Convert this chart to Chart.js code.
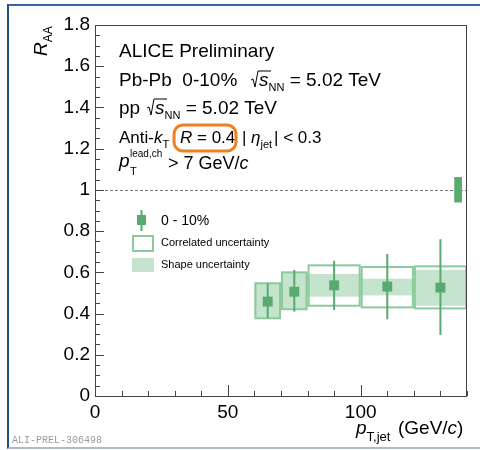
<!DOCTYPE html>
<html>
<head>
<meta charset="utf-8">
<script src="https://cdn.jsdelivr.net/npm/chart.js@4.4.1/dist/chart.umd.min.js"></script>
<style>
    body { margin: 0; background: #fff; }
    #wrap { position: relative; width: 480px; height: 450px; }
    #frame {
        position: absolute; left: 7px; top: 4px; width: 473px; height: 445px;
        box-sizing: border-box; pointer-events: none;
        border-left: 2px solid #1f4f87; border-top: 2px solid #3767a0; border-bottom: 2px solid #a6bcd2;
    }
</style>
</head>
<body>
<div id="wrap">
    <canvas id="raaChart" width="480" height="450"></canvas>
    <div id="frame"></div>
</div>
<script>
// jet pT bins (GeV/c)
const ptCenters = [65, 75, 90, 110, 130];
const binLow = [60, 70, 80, 100, 120];
const binHigh = [70, 80, 100, 120, 140];

// R_AA values, 0-10%
const raa = [0.458, 0.506, 0.537, 0.531, 0.526];
const statLow = [0.377, 0.409, 0.417, 0.372, 0.296];
const statHigh = [0.547, 0.611, 0.656, 0.689, 0.761];
const corrLow = [0.377, 0.421, 0.438, 0.430, 0.425];
const corrHigh = [0.547, 0.600, 0.634, 0.626, 0.629];
const shapeLow = [0.377, 0.421, 0.482, 0.488, 0.438];
const shapeHigh = [0.547, 0.600, 0.592, 0.569, 0.612];

// normalisation uncertainty box at R_AA = 1
const normX = [135.2, 138.1];
const normY = [0.939, 1.062];

// axes
const xTicks = [0, 50, 100];
const yTicks = [0, 0.2, 0.4, 0.6, 0.8, 1, 1.2, 1.4, 1.6, 1.8];

const GREEN = 'rgb(88, 170, 110)';
const GREEN_FILL = 'rgb(196, 228, 205)';
const GREEN_LINE = 'rgb(140, 202, 156)';
const FAMILY = '"Liberation Sans", Arial, sans-serif';

function font(size, italic) {
    return (italic ? 'italic ' : '') + size + 'px ' + FAMILY;
}

function drawRich(ctx, x, y, parts, base) {
    base = base || 19;
    parts.forEach(p => {
        if (p.at !== undefined) x = p.at;
        if (p.sqrt) {
            ctx.save();
            ctx.lineWidth = 1;
            ctx.strokeStyle = '#000';
            ctx.beginPath();
            ctx.moveTo(x, y - 6);
            ctx.lineTo(x + 2, y - 7);
            ctx.lineTo(x + 4, y + 1);
            ctx.lineTo(x + 7, y - 15);
            ctx.lineTo(x + 7 + p.sqrt, y - 15);
            ctx.stroke();
            ctx.restore();
            return;
        }
        ctx.font = font(p.size || base, p.i);
        ctx.fillText(p.t, x, y + (p.dy || 0));
        if (!p.stay) x += ctx.measureText(p.t).width;
    });
}

const rootStyle = {
    id: 'rootStyle',
    beforeDatasetsDraw(chart) {
        const ctx = chart.ctx;
        const xs = chart.scales.x, ys = chart.scales.y;
        const area = chart.chartArea;

        // dashed line at 1
        ctx.save();
        ctx.strokeStyle = '#777';
        ctx.lineWidth = 1;
        ctx.setLineDash([3, 2]);
        const y1 = Math.round(ys.getPixelForValue(1)) + 0.5;
        ctx.beginPath();
        ctx.moveTo(area.left, y1);
        ctx.lineTo(area.right, y1);
        ctx.stroke();
        ctx.setLineDash([]);

        // normalisation box
        ctx.fillStyle = GREEN;
        ctx.fillRect(xs.getPixelForValue(normX[0]), ys.getPixelForValue(normY[1]),
            xs.getPixelForValue(normX[1]) - xs.getPixelForValue(normX[0]),
            ys.getPixelForValue(normY[0]) - ys.getPixelForValue(normY[1]));

        // shape uncertainty (filled)
        ctx.fillStyle = GREEN_FILL;
        ptCenters.forEach((pt, i) => {
            const x0 = xs.getPixelForValue(binLow[i]), x1 = xs.getPixelForValue(binHigh[i]);
            const t = ys.getPixelForValue(shapeHigh[i]), b = ys.getPixelForValue(shapeLow[i]);
            ctx.fillRect(x0, t, x1 - x0, b - t);
        });

        // correlated uncertainty (open)
        ctx.strokeStyle = GREEN_LINE;
        ctx.lineWidth = 2;
        ptCenters.forEach((pt, i) => {
            const x0 = xs.getPixelForValue(binLow[i]), x1 = xs.getPixelForValue(binHigh[i]);
            const t = ys.getPixelForValue(corrHigh[i]), b = ys.getPixelForValue(corrLow[i]);
            ctx.strokeRect(x0 + 1, t, x1 - x0 - 2, b - t);
        });

        // statistical error bars
        ctx.strokeStyle = GREEN;
        ctx.lineWidth = 2;
        ptCenters.forEach((pt, i) => {
            const x = xs.getPixelForValue(pt);
            ctx.beginPath();
            ctx.moveTo(x, ys.getPixelForValue(statHigh[i]));
            ctx.lineTo(x, ys.getPixelForValue(statLow[i]));
            ctx.stroke();
        });
        ctx.restore();
    },
    afterDraw(chart) {
        const ctx = chart.ctx;
        const xs = chart.scales.x, ys = chart.scales.y;
        const area = chart.chartArea;
        ctx.save();

        // frame
        ctx.strokeStyle = '#444';
        ctx.lineWidth = 1;
        ctx.strokeRect(area.left + 0.5, area.top + 0.5, area.right - area.left - 1, area.bottom - area.top);

        // inward ticks
        ctx.beginPath();
        for (let v = 0; v <= 140; v += 10) {
            const X = Math.round(xs.getPixelForValue(v)) + 0.5;
            const len = v % 50 === 0 ? 11 : 5;
            ctx.moveTo(X, area.bottom);
            ctx.lineTo(X, area.bottom - len);
        }
        for (let k = 0; k <= 36; k++) {
            const Y = Math.round(ys.getPixelForValue(k * 0.05)) + 0.5;
            const len = k % 4 === 0 ? 9 : 5;
            ctx.moveTo(area.left, Y);
            ctx.lineTo(area.left + len, Y);
        }
        ctx.stroke();

        // annotation text
        ctx.fillStyle = '#000';
        ctx.textBaseline = 'alphabetic';
        ctx.textAlign = 'left';
        drawRich(ctx, 119, 57, [{ t: 'ALICE Preliminary' }]);
        drawRich(ctx, 119, 86, [
            { t: 'Pb-Pb  0-10%' }, { sqrt: 13, at: 251 }, { t: 's', i: true, at: 259 },
            { t: 'NN', size: 11, dy: 5 }, { t: ' = 5.02 TeV' }
        ]);
        drawRich(ctx, 119, 114, [
            { t: 'pp' }, { sqrt: 13, at: 147 }, { t: 's', i: true, at: 155 },
            { t: 'NN', size: 11, dy: 5 }, { t: ' = 5.02 TeV' }
        ]);
        drawRich(ctx, 119, 143, [
            { t: 'Anti-' }, { t: 'k', i: true }, { t: 'T', size: 11, dy: 5 },
            { t: 'R', i: true, at: 180 }, { t: ' = 0.4' },
            { t: '|', at: 242 }, { t: 'η', i: true, at: 251 }, { t: 'jet', size: 11, dy: 5 },
            { t: '| < 0.3', at: 274 }
        ], 17);
        drawRich(ctx, 119, 167, [
            { t: 'p', i: true, size: 19 }, { t: 'lead,ch', size: 10, dy: -10, at: 130, stay: true },
            { t: 'T', size: 11, dy: 8, at: 130 },
            { t: '> 7 GeV/', at: 168, dy: 2 }, { t: 'c', i: true, dy: 2 }
        ], 18);

        // orange highlight round R = 0.4
        ctx.strokeStyle = '#f08020';
        ctx.lineWidth = 3;
        ctx.beginPath();
        ctx.roundRect(174, 125, 62, 26, 9);
        ctx.stroke();

        // legend
        ctx.fillStyle = GREEN;
        ctx.strokeStyle = GREEN;
        ctx.lineWidth = 2;
        ctx.beginPath();
        ctx.moveTo(141.5, 210);
        ctx.lineTo(141.5, 231);
        ctx.stroke();
        ctx.fillRect(137, 215, 9, 10);
        ctx.strokeStyle = GREEN_LINE;
        ctx.strokeRect(133, 236, 20, 15);
        ctx.fillStyle = GREEN_FILL;
        ctx.fillRect(132, 258, 22, 14);
        ctx.fillStyle = '#000';
        drawRich(ctx, 161, 225, [{ t: '0 - 10%', size: 14 }]);
        drawRich(ctx, 161, 246, [{ t: 'Correlated uncertainty', size: 11 }]);
        drawRich(ctx, 161, 268, [{ t: 'Shape uncertainty', size: 11 }]);

        // axis titles
        drawRich(ctx, 356, 434, [
            { t: 'p', i: true }, { t: 'T,jet', size: 13, dy: 7 },
            { t: '(GeV/', at: 398 }, { t: 'c', i: true }, { t: ')' }
        ]);
        ctx.save();
        ctx.translate(47, 56);
        ctx.rotate(-Math.PI / 2);
        drawRich(ctx, 0, 0, [{ t: 'R', i: true }, { t: 'AA', size: 12, dy: 5 }]);
        ctx.restore();

        // watermark
        ctx.fillStyle = '#9a9a9a';
        ctx.font = '10px "Liberation Mono", monospace';
        ctx.fillText('ALI-PREL-306498', 12, 443);
        ctx.restore();
    }
};

const tickFont = { family: FAMILY, size: 19 };

new Chart(document.getElementById('raaChart').getContext('2d'), {
    type: 'scatter',
    data: {
        datasets: [{
            label: '0 - 10%',
            data: ptCenters.map((pt, i) => ({ x: pt, y: raa[i] })),
            pointStyle: 'rect',
            pointRadius: 7,
            borderWidth: 0,
            backgroundColor: GREEN
        }]
    },
    options: {
        responsive: false,
        animation: false,
        layout: { padding: { left: 0, top: 25, right: 13, bottom: 0 } },
        plugins: { legend: { display: false }, tooltip: { enabled: false } },
        scales: {
            x: {
                type: 'linear',
                min: 0,
                max: 140,
                afterBuildTicks: s => { s.ticks = xTicks.map(v => ({ value: v })); },
                afterFit: s => { s.height = 54; },
                grid: { display: false, drawTicks: false },
                border: { display: false },
                ticks: { font: tickFont, color: '#000', padding: 5, maxRotation: 0, callback: v => String(v) }
            },
            y: {
                min: 0,
                max: 1.8,
                afterBuildTicks: s => { s.ticks = yTicks.map(v => ({ value: v })); },
                afterFit: s => { s.width = 95; },
                grid: { display: false, drawTicks: false },
                border: { display: false },
                ticks: { font: tickFont, color: '#000', padding: 5, callback: v => String(v) }
            }
        }
    },
    plugins: [rootStyle]
});
</script>
</body>
</html>
